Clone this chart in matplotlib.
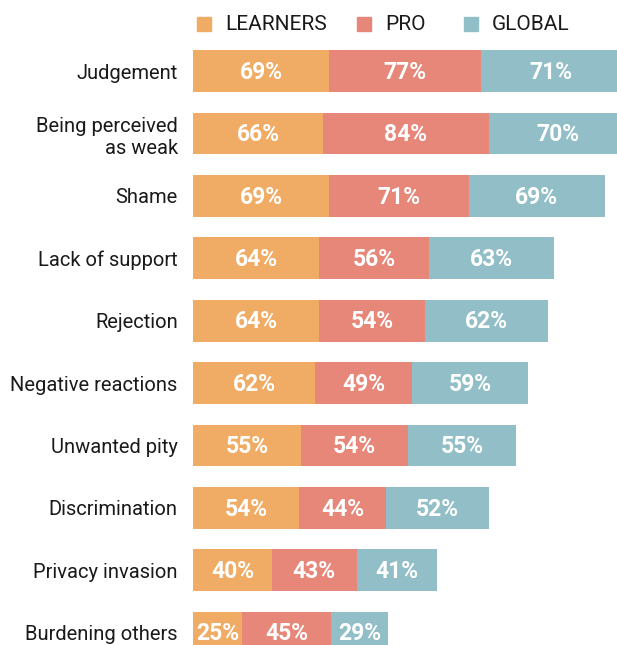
import matplotlib
matplotlib.use('Agg')
import matplotlib.pyplot as plt
from matplotlib.patches import Rectangle

# barriers to seeking support, share of respondents per group
categories = ['Judgement', 'Being perceived\nas weak', 'Shame', 'Lack of support',
              'Rejection', 'Negative reactions', 'Unwanted pity', 'Discrimination',
              'Privacy invasion', 'Burdening others']
learners = [69, 66, 69, 64, 64, 62, 55, 54, 40, 25]
pro = [77, 84, 71, 56, 54, 49, 54, 44, 43, 45]
global_ = [71, 70, 69, 63, 62, 59, 55, 52, 41, 29]

series = ['LEARNERS', 'PRO', 'GLOBAL']
colors = ['#F0AC64', '#E6877A', '#92BFC7']

plt.rcParams['font.family'] = ['Roboto', 'DejaVu Sans']

fig = plt.figure(figsize=(6.17, 6.45), dpi=100)
ax = fig.add_axes([193 / 617, 0, 424 / 617, 605 / 645])

y = list(range(len(categories)))
left = [0] * len(categories)
for vals, col in zip([learners, pro, global_], colors):
    ax.barh(y, vals, left=left, height=0.67, color=col, edgecolor='none')
    for i, v in enumerate(vals):
        ax.text(left[i] + v / 2, i + 0.02, f'{v}%', ha='center', va='center',
                color='white', fontsize=16.5, fontweight='bold', clip_on=False)
    left = [l + v for l, v in zip(left, vals)]

ax.set_xlim(0, 215.2)
ax.set_ylim(9.2, -0.5)
ax.set_yticks(y)
ax.set_yticklabels(categories, fontsize=14.5, color='#1a1a1a', linespacing=1.2)
ax.tick_params(axis='y', length=0, pad=11)
ax.set_xticks([])
for s in ax.spines.values():
    s.set_visible(False)

# legend row above the bars
legend_x = [197, 357, 464]
for name, col, lx in zip(series, colors, legend_x):
    fig.patches.append(Rectangle((lx / 617, 1 - 31 / 645), 14 / 617, 14 / 645,
                                 transform=fig.transFigure, color=col))
    fig.text((lx + 28) / 617, 1 - 24 / 645, name, fontsize=15,
             color='#1a1a1a', va='center', ha='left')

fig.savefig('out.png', dpi=100)
